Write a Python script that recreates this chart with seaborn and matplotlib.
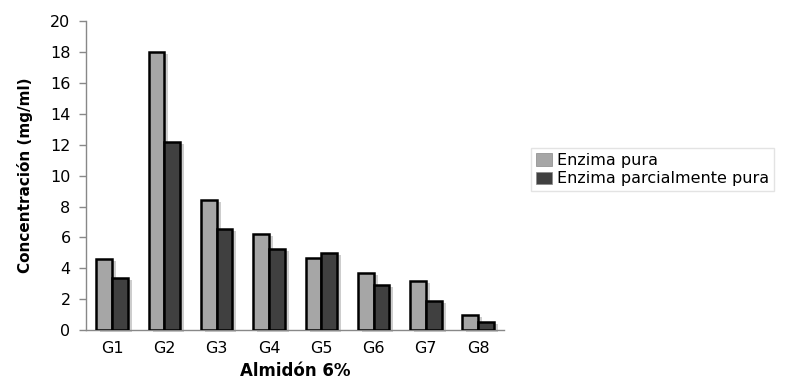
import matplotlib
matplotlib.use("Agg")
import matplotlib.pyplot as plt
from matplotlib.patches import Rectangle, Patch
from matplotlib import transforms
import seaborn as sns
import pandas as pd

groups = ["G1", "G2", "G3", "G4", "G5", "G6", "G7", "G8"]
enzima_pura = [4.6, 18.0, 8.4, 6.25, 4.7, 3.7, 3.15, 1.0]
enzima_parcial = [3.4, 12.2, 6.55, 5.25, 5.0, 2.95, 1.9, 0.55]
series_names = ["Enzima pura", "Enzima parcialmente pura"]
y_ticks = [0, 2, 4, 6, 8, 10, 12, 14, 16, 18, 20]

df = pd.DataFrame({
    "grupo": groups * 2,
    "valor": enzima_pura + enzima_parcial,
    "serie": [series_names[0]] * len(groups) + [series_names[1]] * len(groups),
})

sns.set_theme(style="white")
plt.rcParams["font.family"] = ["DejaVu Sans"]
plt.rcParams["text.color"] = "black"
plt.rcParams["axes.labelcolor"] = "black"
plt.rcParams["xtick.labelcolor"] = "black"
plt.rcParams["ytick.labelcolor"] = "black"

fig = plt.figure(figsize=(7.88, 3.83), dpi=100)
ax = fig.add_axes([0.109, 0.138, 0.531, 0.807])

palette = {series_names[0]: "#a6a6a6", series_names[1]: "#404040"}
sns.barplot(data=df, x="grupo", y="valor", hue="serie", palette=palette,
            width=0.6, edgecolor="black", linewidth=1.8, saturation=1,
            legend=False, ax=ax, zorder=3)

# soft drop shadow behind every bar
shadow_tf = transforms.offset_copy(ax.transData, fig=fig, x=4, y=-2, units="dots")
for bar in list(ax.patches):
    if bar.get_height() <= 0:
        continue
    ax.add_patch(Rectangle((bar.get_x(), bar.get_y()), bar.get_width(), bar.get_height(),
                           transform=shadow_tf, facecolor="#cdcdcd", edgecolor="none",
                           zorder=2, clip_on=False))

ax.set_xlim(-0.5, len(groups) - 0.5)
ax.set_ylim(0, 20)
ax.set_yticks(y_ticks)
ax.set_yticklabels([str(t) for t in y_ticks], fontsize=11.5)
ax.set_xticks(range(len(groups)))
ax.set_xticklabels(groups, fontsize=11.5)
ax.set_xticks([i - 0.5 for i in range(len(groups) + 1)], minor=True)
ax.tick_params(axis="x", which="major", length=0, pad=8)
ax.tick_params(axis="x", which="minor", length=4, width=1, color="#888888", direction="out")
ax.tick_params(axis="y", which="major", length=5, width=1, color="#888888", direction="out", pad=6, left=True)

for side in ["top", "right"]:
    ax.spines[side].set_visible(False)
for side in ["left", "bottom"]:
    ax.spines[side].set_color("#888888")
    ax.spines[side].set_linewidth(1)

ax.set_xlabel("Almidón 6%", fontsize=12, fontweight="bold", labelpad=4)
ax.set_ylabel("Concentración (mg/ml)", fontsize=11, fontweight="bold", labelpad=12)

handles = [Patch(facecolor=palette[s], edgecolor="#888888", linewidth=0.5) for s in series_names]
leg = fig.legend(handles, series_names, loc="lower left",
                 bbox_to_anchor=(523 / 788, 1 - 199 / 383), fontsize=11.5,
                 frameon=True, fancybox=False, handlelength=1.0, handleheight=0.8,
                 handletextpad=0.35, labelspacing=0.2, borderpad=0.3)
leg.get_frame().set_edgecolor("#dddddd")
leg.get_frame().set_linewidth(1)

fig.savefig("out.png", dpi=100)
